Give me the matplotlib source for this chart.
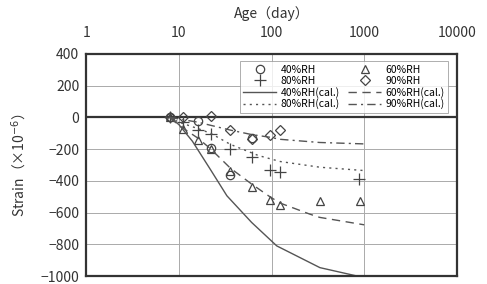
import matplotlib
matplotlib.use('Agg')
import matplotlib.pyplot as plt
from matplotlib.ticker import FixedLocator, FixedFormatter, NullLocator

plt.rcParams['font.family'] = ['Noto Sans CJK JP', 'DejaVu Sans']

# measured data
age_40 = [8, 16, 22, 36, 61]
strain_40 = [0, -20, -190, -365, -130]
age_60 = [8, 11, 16, 22, 36, 61, 96, 124, 330, 900]
strain_60 = [0, -72, -141, -198, -335, -441, -519, -553, -530, -530]
age_80 = [8, 11, 16, 22, 36, 61, 96, 124, 870]
strain_80 = [0, -30, -82, -103, -198, -251, -331, -342, -388]
age_90 = [8, 11, 22, 36, 61, 96, 124]
strain_90 = [0, 0, 12, -82, -135, -114, -82]

# calculated curves
age_cal40 = [8, 10, 14, 22, 33, 61, 114, 333, 1000]
cal_40 = [0, -45, -150, -330, -494, -662, -810, -947, -1010]
age_cal60 = [8, 10, 16, 22, 36, 61, 96, 124, 260, 330, 1000]
cal_60 = [0, -50, -130, -198, -320, -420, -500, -540, -610, -630, -677]
age_cal80 = [8, 10, 16, 22, 36, 72, 124, 333, 1000]
cal_80 = [0, -30, -70, -100, -170, -240, -278, -314, -335]
age_cal90 = [8, 16, 36, 61, 96, 124, 330, 1000]
cal_90 = [0, -30, -80, -108, -125, -138, -158, -167]

x_ticks = [1, 10, 100, 1000, 10000]
y_ticks = [400, 200, 0, -200, -400, -600, -800, -1000]

fig = plt.figure(figsize=(4.87, 2.84), dpi=100)
ax = fig.add_axes([0.177, 0.028, 0.761, 0.782])

ax.set_xscale('log')
ax.set_xlim(1, 10000)
ax.set_ylim(-1000, 400)

mk = dict(linestyle='none', markersize=6, markerfacecolor='none',
          markeredgecolor='#444444', markeredgewidth=0.9)
h40, = ax.plot(age_40, strain_40, marker='o', label='40%RH', **mk)
h60, = ax.plot(age_60, strain_60, marker='^', label='60%RH', **mk)
h80, = ax.plot(age_80, strain_80, marker='+', label='80%RH',
               **{**mk, 'markersize': 8})
h90, = ax.plot(age_90, strain_90, marker='D', label='90%RH',
               **{**mk, 'markersize': 5})

lc = '#555555'
c40, = ax.plot(age_cal40, cal_40, color=lc, lw=1.0, ls='-', label='40%RH(cal.)')
c60, = ax.plot(age_cal60, cal_60, color=lc, lw=1.0, ls=(0, (6, 4)), label='60%RH(cal.)')
c80, = ax.plot(age_cal80, cal_80, color=lc, lw=1.0, ls=(0, (1.5, 3)), label='80%RH(cal.)')
c90, = ax.plot(age_cal90, cal_90, color=lc, lw=1.0, ls=(0, (6, 3, 1.5, 3)), label='90%RH(cal.)')

ax.axhline(0, color='#333333', lw=1.6, zorder=1)

ax.xaxis.set_major_locator(FixedLocator(x_ticks))
ax.xaxis.set_major_formatter(FixedFormatter([str(v) for v in x_ticks]))
ax.xaxis.set_minor_locator(NullLocator())
ax.set_yticks(y_ticks)
ax.xaxis.tick_top()
ax.xaxis.set_label_position('top')
ax.tick_params(axis='both', length=0, labelsize=10, colors='#333333')
ax.tick_params(axis='x', pad=10)
ax.tick_params(axis='y', pad=5)
ax.set_xlabel('Age\uff08day\uff09', fontsize=10, color='#333333', labelpad=6)
ax.set_ylabel('Strain\uff08\u00d710$^{-6}$\uff09', fontsize=10, color='#333333', labelpad=8)

ax.grid(True, color='#aaaaaa', lw=0.7)
ax.set_axisbelow(True)
for s in ax.spines.values():
    s.set_linewidth(1.6)
    s.set_color('#333333')

leg = ax.legend(handles=[h40, h80, c40, c80, h60, h90, c60, c90], ncol=2,
                loc='upper right', bbox_to_anchor=(0.99, 0.99), fontsize=7.5,
                frameon=True, fancybox=False, edgecolor='#999999',
                handlelength=3.2, columnspacing=0.8, labelspacing=0.1,
                borderpad=0.3, handletextpad=0.4)
leg.get_frame().set_linewidth(0.7)

fig.savefig('out.png', dpi=100)
